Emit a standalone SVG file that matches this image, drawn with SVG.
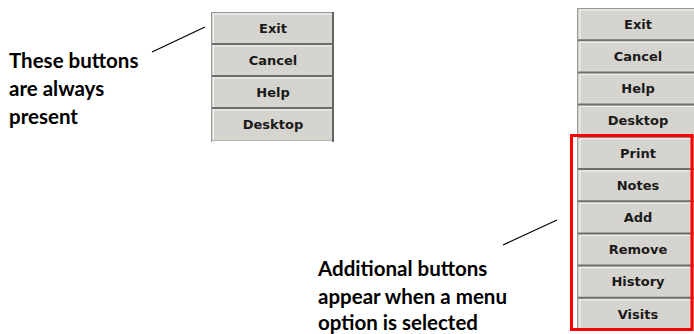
<svg xmlns="http://www.w3.org/2000/svg" width="694" height="334" viewBox="0 0 694 334">
<style>
.face{fill:#d6d4ce}
.sep{stroke:#6e6e6e;stroke-width:2}
.hi{stroke:#f4f4f2;stroke-width:1}
.edgeL{stroke:#9a9a9a;stroke-width:1}
.edgeR{stroke:#404040;stroke-width:1.5}
.btn{font-family:"DejaVu Sans",sans-serif;font-weight:bold;font-size:13px;fill:#1a1a1a;text-anchor:middle}
.note{font-family:"Lato","Open Sans",sans-serif;font-weight:bold;font-size:20.5px;fill:#000}
.conn{stroke:#000;stroke-width:1.2;fill:none}
</style>
<rect width="694" height="334" fill="#fff"/>

<!-- Left panel -->
<g id="left-panel">
  <rect class="face" x="211" y="12" width="123" height="129"/>
  <line class="edgeL" x1="211.5" y1="12" x2="211.5" y2="142"/>
  <line class="hi" x1="213.5" y1="13" x2="213.5" y2="142"/>
  <line class="edgeL" x1="211" y1="12.5" x2="334" y2="12.5"/>
  <line class="edgeR" x1="333" y1="12" x2="333" y2="142"/>
</g>
<g id="left-exit"><line class="hi" x1="214" y1="14" x2="332" y2="14"/><text class="btn" x="273" y="33">Exit</text></g>
<g id="left-cancel"><line class="sep" x1="212" y1="44" x2="332" y2="44"/><line class="hi" x1="214" y1="46" x2="332" y2="46"/><text class="btn" x="273" y="65">Cancel</text></g>
<g id="left-help"><line class="sep" x1="212" y1="76" x2="332" y2="76"/><line class="hi" x1="214" y1="78" x2="332" y2="78"/><text class="btn" x="273" y="97">Help</text></g>
<g id="left-desktop"><line class="sep" x1="212" y1="108" x2="332" y2="108"/><line class="hi" x1="214" y1="110" x2="332" y2="110"/><text class="btn" x="273" y="129">Desktop</text><line x1="212" y1="140.5" x2="332" y2="140.5" stroke="#b0b0b0" stroke-width="1"/></g>

<!-- Right panel -->
<g id="right-panel">
  <rect class="face" x="577" y="8" width="120" height="322"/>
  <line class="edgeL" x1="577.5" y1="8" x2="577.5" y2="330"/>
  <line class="hi" x1="580" y1="9" x2="580" y2="330"/>
  <line class="edgeL" x1="577" y1="8.5" x2="694" y2="8.5"/>
</g>
<g id="right-exit"><line class="hi" x1="580" y1="10" x2="694" y2="10"/><text class="btn" x="638" y="29">Exit</text></g>
<g id="right-cancel"><line class="sep" x1="578" y1="40.2" x2="694" y2="40.2"/><line class="hi" x1="580" y1="42.2" x2="694" y2="42.2"/><text class="btn" x="638" y="61">Cancel</text></g>
<g id="right-help"><line class="sep" x1="578" y1="72.4" x2="694" y2="72.4"/><line class="hi" x1="580" y1="74.4" x2="694" y2="74.4"/><text class="btn" x="638" y="93">Help</text></g>
<g id="right-desktop"><line class="sep" x1="578" y1="104.6" x2="694" y2="104.6"/><line class="hi" x1="580" y1="106.6" x2="694" y2="106.6"/><text class="btn" x="638" y="125">Desktop</text></g>
<g id="right-print"><line class="sep" x1="578" y1="136.8" x2="694" y2="136.8"/><line class="hi" x1="580" y1="138.8" x2="694" y2="138.8"/><text class="btn" x="638" y="157.5">Print</text></g>
<g id="right-notes"><line class="sep" x1="578" y1="169" x2="694" y2="169"/><line class="hi" x1="580" y1="171" x2="694" y2="171"/><text class="btn" x="638" y="189.5">Notes</text></g>
<g id="right-add"><line class="sep" x1="578" y1="201.2" x2="694" y2="201.2"/><line class="hi" x1="580" y1="203.2" x2="694" y2="203.2"/><text class="btn" x="638" y="222">Add</text></g>
<g id="right-remove"><line class="sep" x1="578" y1="233.4" x2="694" y2="233.4"/><line class="hi" x1="580" y1="235.4" x2="694" y2="235.4"/><text class="btn" x="638" y="254">Remove</text></g>
<g id="right-history"><line class="sep" x1="578" y1="265.6" x2="694" y2="265.6"/><line class="hi" x1="580" y1="267.6" x2="694" y2="267.6"/><text class="btn" x="638" y="286">History</text></g>
<g id="right-visits"><line class="sep" x1="578" y1="297.8" x2="694" y2="297.8"/><line class="hi" x1="580" y1="299.8" x2="694" y2="299.8"/><text class="btn" x="638" y="318.5">Visits</text></g>

<g id="red-box"><rect x="571.5" y="135.5" width="120.5" height="194" fill="none" stroke="#ff0000" stroke-width="3"/></g>

<!-- Notes -->
<g id="note-left">
  <text class="note" x="9" y="68">These buttons</text>
  <text class="note" x="9" y="96">are always</text>
  <text class="note" x="9" y="124">present</text>
</g>
<g id="note-right">
  <text class="note" x="318" y="276">Additional buttons</text>
  <text class="note" x="318" y="304">appear when a menu</text>
  <text class="note" x="318" y="330">option is selected</text>
</g>

<g id="connectors">
  <line class="conn" x1="152" y1="52" x2="205" y2="27"/>
  <line class="conn" x1="503" y1="245" x2="557" y2="220"/>
</g>
</svg>
